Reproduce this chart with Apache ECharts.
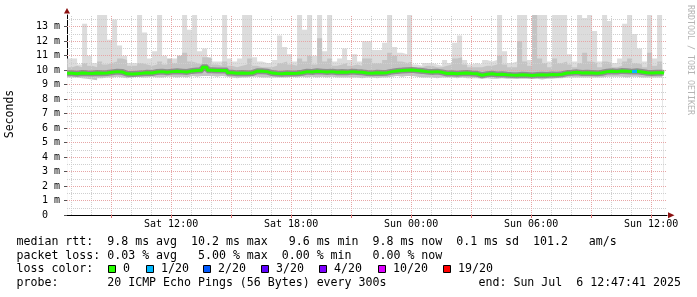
<!DOCTYPE html>
<html><head><meta charset="utf-8">
<script src="https://cdn.jsdelivr.net/npm/echarts@6/dist/echarts.min.js"></script>
<style>html,body{margin:0;padding:0;background:#fff}#c{width:697px;height:297px}</style>
</head><body><div id="c"></div>
<script>
// ---- time range (hours since Sat 00:00) ----
const startHour = 6.7947;   // Sat 06:47:41
const endHour = 36.7947;    // Sun 12:47:41
const slotStart = 6.8;
const slotStep = 0.25;
const lastDataHour = 36.65;

// ---- smoke: top of all pings (ms) ----
const smokeMax = [
10.8,10.8,10.4,13.2,11.0,10.5,13.9,13.9,12.1,13.5,
11.7,11.0,10.5,10.5,13.9,12.6,10.8,11.3,13.9,11.0,
10.6,10.8,11.0,13.9,12.8,13.9,11.3,11.5,10.9,10.6,
10.6,13.9,10.8,10.6,10.8,13.9,13.9,10.9,10.6,10.5,
10.5,10.7,12.4,11.6,11.1,10.6,13.9,12.8,13.9,11.0,
13.9,11.3,13.9,10.6,10.8,11.5,10.7,11.1,10.6,12.0,
12.0,11.4,11.4,11.9,13.9,11.6,11.2,11.1,13.9,10.4,
10.3,10.5,10.5,10.4,10.3,10.7,10.5,11.9,12.4,10.7,
10.4,10.5,10.4,10.7,10.6,10.7,13.9,11.3,10.5,10.6,
13.9,13.9,10.7,13.9,13.9,13.9,10.6,13.9,13.9,13.9,
11.1,10.6,13.9,13.6,13.9,12.7,10.6,13.9,13.4,10.5,
10.8,13.2,13.9,12.5,11.5,10.6,13.9,10.8,13.9,12.1];
// ---- smoke: denser middle part top (ms) ----
const smokeMid = [
10.2,10.3,10.2,10.5,10.3,10.2,10.6,10.4,10.5,10.6,
10.8,10.7,10.3,10.3,10.5,10.4,10.3,10.4,10.6,10.4,
10.8,10.5,11.0,11.2,10.6,10.5,10.4,10.9,10.8,10.4,
10.3,10.6,10.3,10.2,10.3,10.4,10.8,10.3,10.2,10.2,
10.2,10.3,10.5,10.6,10.4,10.3,10.8,10.6,11.0,10.4,
12.2,10.6,10.8,10.3,10.4,10.5,10.3,10.4,10.3,10.8,
10.8,10.5,10.5,10.7,11.2,11.0,10.6,10.5,10.6,10.2,
10.2,10.3,10.3,10.2,10.2,10.3,10.4,10.8,10.9,10.4,
10.2,10.2,10.2,10.3,10.3,10.4,11.0,10.4,10.2,10.2,
12.0,10.6,10.3,13.9,10.8,10.5,10.2,10.8,10.5,10.6,
10.4,10.2,10.5,11.2,10.6,10.5,10.2,10.6,10.5,10.2,
10.3,10.6,10.8,10.5,10.4,10.2,11.2,10.3,10.6,10.5];
// ---- smoke: bottom of all pings (ms) ----
const smokeMin = [
9.5,9.5,9.45,9.4,9.35,9.3,9.45,9.5,9.5,9.55,
9.5,9.45,9.5,9.55,9.5,9.5,9.55,9.5,9.5,9.55,
9.55,9.5,9.55,9.5,9.6,9.55,9.6,9.6,9.6,9.55,
9.6,9.55,9.5,9.45,9.5,9.5,9.55,9.55,9.5,9.5,
9.5,9.5,9.5,9.5,9.55,9.5,9.55,9.5,9.55,9.5,
9.55,9.5,9.55,9.5,9.5,9.5,9.5,9.5,9.45,9.5,
9.5,9.45,9.5,9.5,9.55,9.6,9.55,9.6,9.6,9.55,
9.5,9.5,9.5,9.45,9.5,9.5,9.5,9.45,9.5,9.45,
9.45,9.45,9.4,9.45,9.4,9.4,9.45,9.4,9.4,9.4,
9.4,9.4,9.4,9.4,9.35,9.4,9.4,9.45,9.45,9.5,
9.5,9.5,9.5,9.5,9.5,9.5,9.5,9.55,9.55,9.55,
9.55,9.5,9.55,9.55,9.5,9.5,9.5,9.5,9.5,9.5];
// ---- median rtt (ms) ----
const median = [
9.78,9.76,9.8,9.78,9.77,9.8,9.78,9.8,9.85,9.9,
9.88,9.75,9.74,9.76,9.78,9.82,9.8,9.88,9.9,9.86,
9.9,9.92,9.9,9.88,9.95,9.98,10.0,10.2,10.0,9.98,
9.98,9.97,9.82,9.78,9.8,9.78,9.8,9.93,9.92,9.9,
9.8,9.77,9.76,9.78,9.77,9.79,9.82,9.9,9.88,9.92,
9.9,9.88,9.9,9.86,9.88,9.85,9.9,9.87,9.85,9.8,
9.78,9.82,9.8,9.83,9.9,9.95,9.97,10.0,10.02,9.98,
9.95,9.9,9.88,9.9,9.85,9.77,9.78,9.76,9.78,9.8,
9.77,9.75,9.65,9.72,9.75,9.7,9.72,9.68,9.66,9.65,
9.68,9.66,9.64,9.66,9.68,9.66,9.7,9.68,9.72,9.8,
9.82,9.85,9.8,9.82,9.8,9.78,9.82,9.9,9.92,9.9,
9.95,9.93,9.9,9.92,9.88,9.82,9.8,9.83,9.82,9.8];
// ---- lost pings out of 20 ----
const lossCount = [
0,0,0,0,0,0,0,0,0,0, 0,0,0,0,0,0,0,0,0,0,
0,0,0,0,0,0,0,0,0,0, 0,0,0,0,0,0,0,0,0,0,
0,0,0,0,0,0,0,0,0,0, 0,0,0,0,0,0,0,0,0,0,
0,0,0,0,0,0,0,0,0,0, 0,0,0,0,0,0,0,0,0,0,
0,0,0,0,0,0,0,0,0,0, 0,0,0,0,0,0,0,0,0,0,
0,0,0,0,0,0,0,0,0,0, 0,0,0,1,0,0,0,0,0,0];

// ---- axes ----
const xLabelHours = [12, 18, 24, 30, 36];
const xLabelTexts = ['Sat 12:00', 'Sat 18:00', 'Sun 00:00', 'Sun 06:00', 'Sun 12:00'];
const xMajorHours = [9, 12, 15, 18, 21, 24, 27, 30, 33, 36];
const xMinorHours = [7, 8, 10, 11, 13, 14, 16, 17, 19, 20, 22, 23, 25, 26, 28, 29, 31, 32, 34, 35];
const yMajor = [1, 2, 3, 4, 5, 6, 7, 8, 9, 10, 11, 12, 13];
const yMinor = [0.5, 1.5, 2.5, 3.5, 4.5, 5.5, 6.5, 7.5, 8.5, 9.5, 10.5, 11.5, 12.5, 13.5];
const yLabelValues = [0, 1, 2, 3, 4, 5, 6, 7, 8, 9, 10, 11, 12, 13];

// ---- legend / texts ----
const lossThresholds = [0, 1, 2, 3, 4, 10, 19];
const lossLabels = ['0', '1/20', '2/20', '3/20', '4/20', '10/20', '19/20'];
const lossColors = ['#26ff00', '#00b8ff', '#0059ff', '#5e00ff', '#7e00ff', '#dd00ff', '#ff0000'];
const statRow1 = 'median rtt:  9.8 ms avg  10.2 ms max   9.6 ms min  9.8 ms now  0.1 ms sd  101.2   am/s';
const statRow2 = 'packet loss: 0.03 % avg   5.00 % max  0.00 % min   0.00 % now';
const lossTitle = 'loss color:';
const probeRow = 'probe:       20 ICMP Echo Pings (56 Bytes) every 300s';
const endText = 'end: Sun Jul  6 12:47:41 2025';
const yTitle = 'Seconds';
const sideText = 'RRDTOOL / TOBI OETIKER';

// ---- layout (pixels) ----
const legendSquareX = [108, 146, 203, 261, 319, 378, 443];
const MONO = 'DejaVu Sans Mono';

const times = median.map((_, i) => slotStart + i * slotStep);
function stepData(arr) {
  const d = arr.map((v, i) => [times[i], v]);
  d.push([lastDataHour, arr[arr.length - 1]]);
  return d;
}

function lossColor(c) {
  let col = lossColors[0];
  lossThresholds.forEach((t, k) => { if (c >= t) col = lossColors[k]; });
  return col;
}
const pieces = [];
lossCount.forEach((c, i) => {
  const col = lossColor(c);
  const a = times[i], b = (i + 1 < times.length) ? times[i + 1] : endHour + 1;
  const last = pieces[pieces.length - 1];
  if (last && last.color === col) last.lt = b; else pieces.push({ gte: a, lt: b, color: col });
});
pieces[0].gte = startHour - 1;
pieces[pieces.length - 1].lt = endHour + 5;

const majorC = '#e7a6a6', minorC = '#cfcfcf';
const gridLines = [].concat(
  yMinor.map(v => ({ yAxis: v, lineStyle: { color: minorC, type: [1, 1], width: 1 } })),
  xMinorHours.map(v => ({ xAxis: v, lineStyle: { color: minorC, type: [1, 1], width: 1 } })),
  yMajor.map(v => ({ yAxis: v, lineStyle: { color: majorC, type: [1, 1], width: 1 } })),
  xMajorHours.map(v => ({ xAxis: v, lineStyle: { color: majorC, type: [1, 1], width: 1 } }))
);

const base = { type: 'line', step: 'end', showSymbol: false, symbol: 'none', silent: true, animation: false };
const series = [
  Object.assign({}, base, { name: 'max', data: stepData(smokeMax), lineStyle: { width: 0, opacity: 0 }, areaStyle: { color: '#dcdcdc', opacity: 1, origin: 'start' }, z: 2 }),
  Object.assign({}, base, { name: 'mid', data: stepData(smokeMid), lineStyle: { width: 0, opacity: 0 }, areaStyle: { color: '#c4c4c4', opacity: 1, origin: 'start' }, z: 3 }),
  Object.assign({}, base, { name: 'min', data: stepData(smokeMin), lineStyle: { width: 0, opacity: 0 }, areaStyle: { color: '#ffffff', opacity: 1, origin: 'start' }, z: 4,
    markLine: { silent: true, symbol: ['none', 'none'], animation: false, label: { show: false }, z: 5, data: gridLines } }),
  Object.assign({}, base, { name: 'shade', data: stepData(median), lineStyle: { width: 6, color: 'rgba(80,80,80,0.45)' }, z: 6 }),
  Object.assign({}, base, { name: 'median', data: stepData(median), lineStyle: { width: 3 }, z: 7 })
];

const graphics = [
  { type: 'polygon', shape: { points: [[64, 13.5], [70, 13.5], [67, 8]] }, style: { fill: '#8b1010' }, z: 100 },
  { type: 'polygon', shape: { points: [[668, 212.3], [668, 218.2], [674.5, 215.2]] }, style: { fill: '#8b1010' }, z: 100 },
  { type: 'text', x: 10, y: 114, rotation: Math.PI / 2, style: { text: yTitle, font: '11.5px ' + MONO, fill: '#000', align: 'center', verticalAlign: 'middle' } },
  { type: 'text', x: 690, y: 60, rotation: -Math.PI / 2, style: { text: sideText, font: '8.3px ' + MONO, fill: '#b4b4b4', align: 'center', verticalAlign: 'middle' } },
  { type: 'text', x: 16.5, y: 241.5, style: { text: statRow1, font: '11.6px ' + MONO, fill: '#000', verticalAlign: 'middle' } },
  { type: 'text', x: 16.5, y: 255.5, style: { text: statRow2, font: '11.6px ' + MONO, fill: '#000', verticalAlign: 'middle' } },
  { type: 'text', x: 16.5, y: 269.3, style: { text: lossTitle, font: '11.6px ' + MONO, fill: '#000', verticalAlign: 'middle' } },
  { type: 'text', x: 16.5, y: 283.3, style: { text: probeRow, font: '11.6px ' + MONO, fill: '#000', verticalAlign: 'middle' } },
  { type: 'text', x: 478.5, y: 283.3, style: { text: endText, font: '11.6px ' + MONO, fill: '#000', verticalAlign: 'middle' } }
];
lossLabels.forEach((lab, k) => {
  graphics.push({ type: 'rect', shape: { x: legendSquareX[k] + 0.5, y: 265.5, width: 7, height: 7 }, style: { fill: lossColors[k], stroke: '#000', lineWidth: 1 }, z: 100 });
  graphics.push({ type: 'text', x: legendSquareX[k] + 15, y: 269.3, style: { text: lab, font: '11.6px ' + MONO, fill: '#000', verticalAlign: 'middle' } });
});

const chart = echarts.init(document.getElementById('c'), null, { renderer: 'canvas', width: 697, height: 297 });
chart.setOption({
  animation: false,
  backgroundColor: '#ffffff',
  grid: { left: 67, top: 15, width: 600, height: 200, outerBoundsMode: 'none', containLabel: false },
  xAxis: {
    type: 'value', min: startHour, max: endHour,
    splitLine: { show: false },
    axisLine: { show: true, onZero: false, lineStyle: { color: '#000', width: 1 } },
    axisTick: { show: true, customValues: xMajorHours, length: 3, inside: false, lineStyle: { color: '#e07070' } },
    axisLabel: { show: true, customValues: xLabelHours, margin: 4, fontFamily: MONO, fontSize: 10, color: '#000',
      formatter: v => { const k = xLabelHours.findIndex(h => Math.abs(h - v) < 1e-6); return k >= 0 ? xLabelTexts[k] : ''; } }
  },
  yAxis: {
    type: 'value', min: 0, max: 13.81, interval: 1,
    splitLine: { show: false },
    axisLine: { show: true, lineStyle: { color: '#000', width: 1 } },
    axisTick: { show: true, customValues: yLabelValues, length: 3, lineStyle: { color: '#555' } },
    axisLabel: { show: true, customValues: yLabelValues, margin: 7, fontFamily: MONO, fontSize: 10, color: '#000',
      formatter: v => (Math.abs(v) < 1e-9 ? '0  ' : Math.round(v) + ' m') }
  },
  visualMap: { type: 'piecewise', show: false, dimension: 0, seriesIndex: 4, pieces: pieces },
  series: series,
  graphic: graphics
});
</script>
</body></html>
